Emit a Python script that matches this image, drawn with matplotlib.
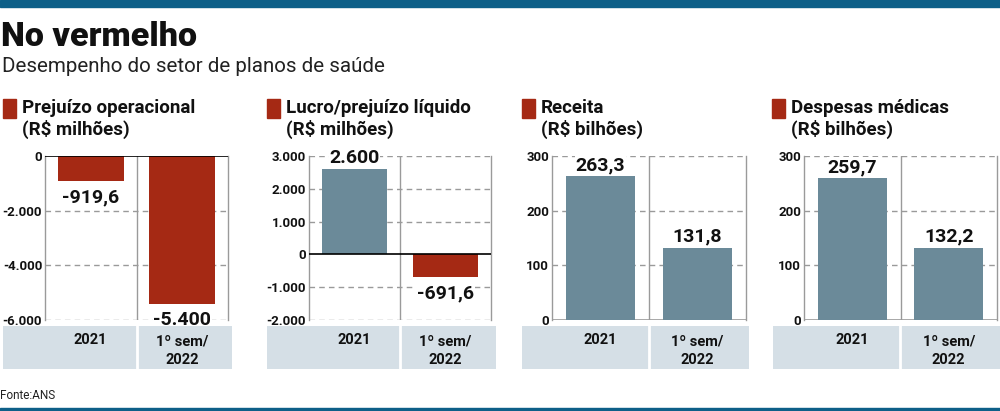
import matplotlib
matplotlib.use("Agg")
import matplotlib.pyplot as plt

# =========================
# Dados
# =========================
categories = ["2021", "1º sem/\n2022"]

titles = ["Prejuízo operacional\n(R$ milhões)",
          "Lucro/prejuízo líquido\n(R$ milhões)",
          "Receita\n(R$ bilhões)",
          "Despesas médicas\n(R$ bilhões)"]

op_loss = [-919.6, -5400]
net_result = [2600, -691.6]
revenue = [263.3, 131.8]
medical = [259.7, 132.2]

op_loss_lbl = ["-919,6", "-5.400"]
net_result_lbl = ["2.600", "-691,6"]
revenue_lbl = ["263,3", "131,8"]
medical_lbl = ["259,7", "132,2"]

op_ticks = [0, -2000, -4000, -6000]
op_ticklbl = ["0", "-2.000", "-4.000", "-6.000"]
net_ticks = [3000, 2000, 1000, 0, -1000, -2000]
net_ticklbl = ["3.000", "2.000", "1.000", "0", "-1.000", "-2.000"]
bi_ticks = [0, 100, 200, 300]
bi_ticklbl = ["0", "100", "200", "300"]

# =========================
# Estilo
# =========================
RED = "#a52914"
GRAYBLUE = "#6b8a99"
BAND = "#d5dfe6"
TOPBLUE = "#0d5f88"
GRID = "#9a9a9a"
W, H = 1000, 411

plt.rcParams["font.family"] = ["Roboto", "DejaVu Sans"]

fig = plt.figure(figsize=(W / 100, H / 100), dpi=100)


def fx(x):
    return x / W


def fy(y):
    return 1 - y / H


# faixas azuis
fig.add_artist(plt.Rectangle((0, fy(7)), 1, 7 / H, color=TOPBLUE, transform=fig.transFigure))
fig.add_artist(plt.Rectangle((0, 0), 1, 3 / H, color=TOPBLUE, transform=fig.transFigure))

fig.text(fx(1), fy(37), "No vermelho", fontsize=24.5, fontweight="black",
         va="center", ha="left", color="#111111")
fig.text(fx(2), fy(67), "Desempenho do setor de planos de saúde", fontsize=14.8,
         va="center", ha="left", color="#222222")
fig.text(fx(0), fy(395), "Fonte:ANS", fontsize=8.5, va="center", ha="left", color="#222222")

panels = [
    dict(x0=45, x1=228, band=(3, 232), sq=3, vals=op_loss, lbls=op_loss_lbl,
         ticks=op_ticks, tlbl=op_ticklbl, ylim=(-6000, 0), colors=[RED, RED]),
    dict(x0=309, x1=491, band=(267, 496), sq=267, vals=net_result, lbls=net_result_lbl,
         ticks=net_ticks, tlbl=net_ticklbl, ylim=(-2000, 3000), colors=[GRAYBLUE, RED]),
    dict(x0=552, x1=746, band=(522, 749), sq=522, vals=revenue, lbls=revenue_lbl,
         ticks=bi_ticks, tlbl=bi_ticklbl, ylim=(0, 300), colors=[GRAYBLUE, GRAYBLUE]),
    dict(x0=804, x1=997, band=(773, 1000), sq=772, vals=medical, lbls=medical_lbl,
         ticks=bi_ticks, tlbl=bi_ticklbl, ylim=(0, 300), colors=[GRAYBLUE, GRAYBLUE]),
]

for i, p in enumerate(panels):
    # titulo do painel com quadradinho vermelho
    fig.add_artist(plt.Rectangle((fx(p["sq"]), fy(118)), 13 / W, 19 / H, color=RED,
                                 transform=fig.transFigure))
    fig.text(fx(p["sq"] + 19), fy(119), titles[i], fontsize=13.5, fontweight="bold",
             va="center", ha="left", linespacing=1.15, color="#111111")

    ax = fig.add_axes([fx(p["x0"]), fy(320), (p["x1"] - p["x0"]) / W, 164 / H])
    ax.set_xlim(-0.5, 1.5)
    ax.set_ylim(*p["ylim"])
    ax.bar([0, 1], p["vals"], width=0.72, color=p["colors"], zorder=3)

    for t in p["ticks"]:
        if t == 0 and p["ylim"][0] < 0:
            ax.axhline(0, color="black", lw=1.2, zorder=4)
        elif t == p["ylim"][0] and t == 0:
            ax.axhline(t, color=GRID, lw=1.2, zorder=2)
        else:
            ax.axhline(t, color=GRID, lw=1, ls=(0, (4, 3)), zorder=1)
    ax.axvline(0.5, color=GRID, lw=1, zorder=2)

    for s in ["top", "bottom"]:
        ax.spines[s].set_visible(False)
    for s in ["left", "right"]:
        ax.spines[s].set_color(GRID)
        ax.spines[s].set_linewidth(1)

    ax.set_yticks(p["ticks"])
    ax.set_yticklabels(p["tlbl"], fontsize=9.5, fontweight="bold", color="#111111")
    ax.tick_params(axis="y", length=0, pad=2)
    ax.set_xticks([])
    ax.patch.set_alpha(0)

    for j, (v, lb) in enumerate(zip(p["vals"], p["lbls"])):
        va = "top" if v < 0 else "bottom"
        off = -5 if v < 0 else 1.5
        ax.annotate(lb, (j, v), xytext=(0, off), textcoords="offset points",
                    ha="center", va=va, fontsize=14, fontweight="bold", color="#111111",
                    zorder=5,
                    bbox=dict(facecolor="white", edgecolor="none", pad=0.5))

    # faixa das categorias
    bx0, bx1 = p["band"]
    band = fig.add_axes([fx(bx0), fy(369), (bx1 - bx0) / W, 43 / H])
    band.set_xlim(bx0, bx1)
    band.set_ylim(0, 1)
    band.set_facecolor(BAND)
    for s in band.spines.values():
        s.set_visible(False)
    band.set_xticks([])
    band.set_yticks([])
    sep = (p["x0"] + p["x1"]) / 2
    band.axvline(sep, color="white", lw=2)
    centers = [(p["x0"] + sep) / 2, (sep + p["x1"]) / 2]
    for c, cat in zip(centers, categories):
        band.text(c, 0.43 if "\n" in cat else 0.67, cat, ha="center", va="center",
                  fontsize=10.5, fontweight="bold", linespacing=1.45, color="#111111")

fig.savefig("out.png", dpi=100)
